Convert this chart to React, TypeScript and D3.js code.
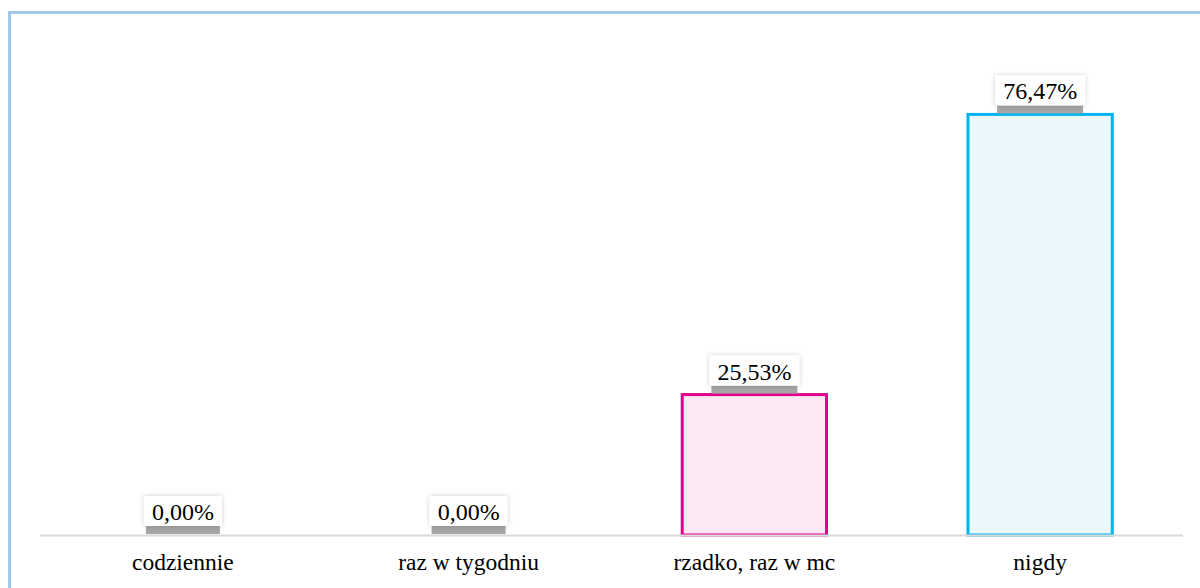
import React, { useEffect, useRef } from "react";
import * as d3 from "d3";

const categories = ["codziennie", "raz w tygodniu", "rzadko, raz w mc", "nigdy"];
const values = [0.0, 0.0, 25.53, 76.47];
const valueLabels = ["0,00%", "0,00%", "25,53%", "76,47%"];
const strokeColors = ["#e5007e", "#e5007e", "#e2008f", "#00b4f0"];
const fillColors = ["#fbe9f4", "#fbe9f4", "#fbe8f4", "#eaf8fe"];

const W = 1200;
const H = 588;

export default function App() {
  const ref = useRef<SVGSVGElement>(null);

  useEffect(() => {
    const svg = d3.select(ref.current);
    svg.selectAll("*").remove();

    const defs = svg.append("defs");
    const f = defs.append("filter").attr("id", "soft").attr("x", "-30%").attr("y", "-40%").attr("width", "160%").attr("height", "190%");
    f.append("feDropShadow").attr("dx", 0).attr("dy", 0).attr("stdDeviation", 2.5).attr("flood-color", "#000").attr("flood-opacity", 0.2);

    // frame
    svg.append("rect")
      .attr("x", 9.5).attr("y", 12.5)
      .attr("width", W + 20).attr("height", H + 20)
      .attr("fill", "#fff")
      .attr("stroke", "#a3c7ea")
      .attr("stroke-width", 3);

    const baseline = 535;
    const x = d3.scaleBand<string>().domain(categories).range([40, 1183]).paddingInner(0).paddingOuter(0);
    const y = d3.scaleLinear().domain([0, 80]).range([baseline, baseline - 80 * 5.5]);
    const barW = x.bandwidth() * 0.505;

    const g = svg.append("g");

    categories.forEach((c, i) => {
      const cx = (x(c) as number) + x.bandwidth() / 2;
      const top = y(values[i]);
      if (values[i] > 0) {
        g.append("rect")
          .attr("x", cx - barW / 2)
          .attr("y", top)
          .attr("width", barW)
          .attr("height", baseline - top)
          .attr("fill", fillColors[i])
          .attr("stroke", strokeColors[i])
          .attr("stroke-width", 3);
      }
    });

    // axis line
    g.append("line")
      .attr("x1", 40).attr("x2", 1183)
      .attr("y1", baseline + 0.5).attr("y2", baseline + 0.5)
      .attr("stroke", "#d9d9d9").attr("stroke-width", 2);

    // category labels
    categories.forEach((c) => {
      const cx = (x(c) as number) + x.bandwidth() / 2;
      g.append("text")
        .attr("x", cx).attr("y", 570)
        .attr("text-anchor", "middle")
        .attr("font-family", "'Liberation Serif', 'Times New Roman', serif")
        .attr("font-size", 23.5)
        .attr("fill", "#000")
        .text(c);
    });

    // value labels
    categories.forEach((c, i) => {
      const cx = (x(c) as number) + x.bandwidth() / 2;
      const top = y(values[i]);
      const lg = g.append("g");
      const t = lg.append("text")
        .attr("x", cx).attr("y", top - 15)
        .attr("text-anchor", "middle")
        .attr("font-family", "'Liberation Serif', 'Times New Roman', serif")
        .attr("font-size", 24)
        .attr("fill", "#000")
        .text(valueLabels[i]);
      const tw = (t.node() as SVGTextElement).getComputedTextLength();
      const bw = tw + 16;
      lg.insert("rect", "text")
        .attr("x", cx - bw / 2 + 2).attr("y", top - 9)
        .attr("width", bw - 4).attr("height", 8)
        .attr("fill", "#a6a6a6");
      lg.insert("rect", "text")
        .attr("x", cx - bw / 2).attr("y", top - 39)
        .attr("width", bw).attr("height", 30)
        .attr("fill", "#fff")
        .attr("filter", "url(#soft)");
    });
  }, []);

  return (
    <div style={{ position: "absolute", left: 0, top: 0, width: W, height: H, overflow: "hidden" }}>
      <svg ref={ref} width={W} height={H} style={{ display: "block" }} />
    </div>
  );
}
